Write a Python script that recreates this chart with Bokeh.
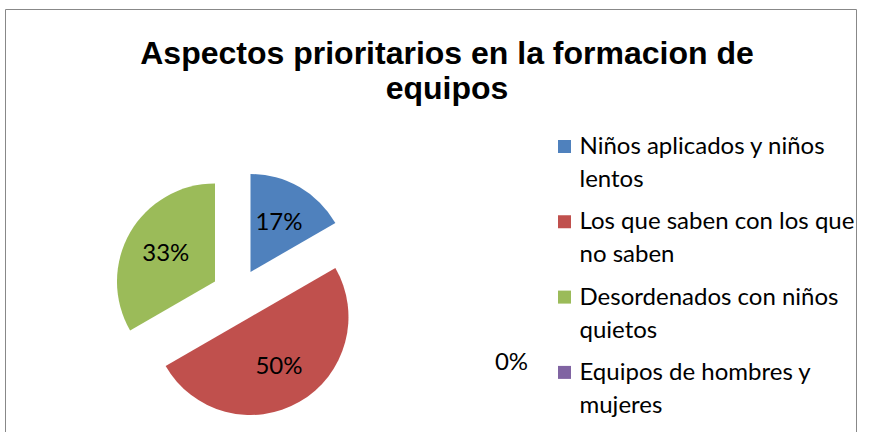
import math
import textwrap
from bokeh.plotting import figure
from bokeh.models import Range1d
from bokeh.core.properties import value
from bokeh.embed import file_html
from bokeh.resources import INLINE

# ---- data ----
title_lines = ["Aspectos prioritarios en la formacion de", "equipos"]
categories = [
    "Niños aplicados y niños lentos",
    "Los que saben con los que no saben",
    "Desordenados con niños quietos",
    "Equipos de hombres y mujeres",
]
counts = [1, 3, 2, 0]
colors = ["#4F81BD", "#C0504D", "#9BBB59", "#8064A2"]

# ---- layout (data units = screen px, y up) ----
W, H = 857, 432
CX, CY = 237, 138      # pie centre
R = 98                 # radius
EXPLODE = 26           # explosion distance
LABEL_FRAC = 0.58
TEXT_NUDGE = 2         # compensate baseline offset
ZERO_LABEL = (511, 72)
BODY_FONT = "Lato"
TITLE_FONT = "Liberation Sans"

p = figure(width=W, height=H, x_range=Range1d(0, W), y_range=Range1d(0, H),
           output_backend="svg", toolbar_location=None, min_border=0)
p.axis.visible = False
p.grid.visible = False
p.outline_line_color = None
p.background_fill_color = "white"

# chart border
p.quad(left=[5], right=[W - 1], top=[H - 9], bottom=[-10],
       fill_color=None, line_color="#888888", line_width=1)

# title
for i, line in enumerate(title_lines):
    p.text(x=[446.5], y=[380 - 35 * i], text=[line], text_align="center",
           text_baseline="middle", text_font=value(TITLE_FONT),
           text_font_size="32px", text_font_style="bold", text_color="black")

# pie
total = sum(counts)
cum = 0.0
for c, col in zip(counts, colors):
    a1 = cum / total * 2 * math.pi
    cum += c
    a2 = cum / total * 2 * math.pi
    mid = (a1 + a2) / 2
    std_mid = math.pi / 2 - mid          # clockwise from 12 o'clock -> std angle
    vx = CX + EXPLODE * math.cos(std_mid)
    vy = CY + EXPLODE * math.sin(std_mid)
    pct = f"{round(100 * c / total)}%"
    if c > 0:
        p.wedge(x=[vx], y=[vy], radius=R, start_angle=math.pi / 2 - a1,
                end_angle=math.pi / 2 - a2, direction="clock",
                fill_color=col, line_color=None)
        lx = vx + LABEL_FRAC * R * math.cos(std_mid)
        ly = vy + LABEL_FRAC * R * math.sin(std_mid) + TEXT_NUDGE
    else:
        lx, ly = ZERO_LABEL
    p.text(x=[lx], y=[ly], text=[pct], text_align="center", text_baseline="middle",
           text_font=value(BODY_FONT), text_font_size="24px", text_color="black")

# legend
LEG_Y0 = 286
for i, (cat, col) in enumerate(zip(categories, colors)):
    y = LEG_Y0 - 75.3 * i
    p.rect(x=[564], y=[y], width=13, height=13, fill_color=col, line_color=None)
    for j, line in enumerate(textwrap.wrap(cat, 25)):
        p.text(x=[579], y=[y - 33 * j + TEXT_NUDGE], text=[line], text_align="left",
               text_baseline="middle", text_font=value(BODY_FONT),
               text_font_size="24px", text_color="black")

open("out.html", "w").write(file_html(p, INLINE))
